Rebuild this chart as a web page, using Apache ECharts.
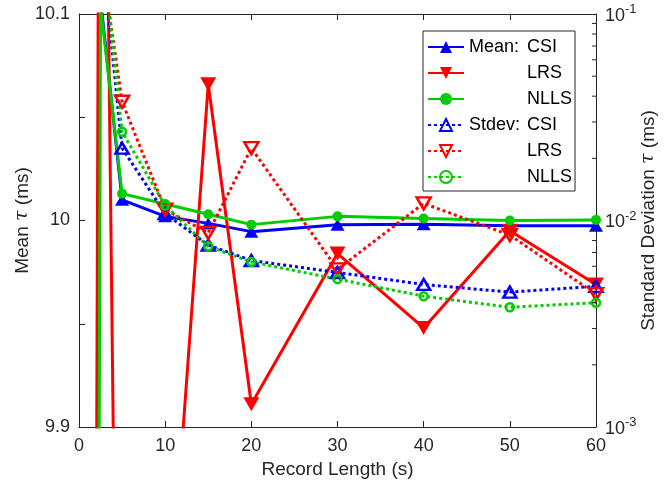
<!DOCTYPE html>
<html>
<head>
<meta charset="utf-8">
<script src="https://cdn.jsdelivr.net/npm/echarts@6/dist/echarts.min.js"></script>
<style>
html,body{margin:0;padding:0;background:#fff;}
#chart{width:667px;height:489px;}
</style>
</head>
<body>
<div id="chart"></div>
<script>
// Record lengths (s)
const recordLength = [1, 2.5, 5, 10, 15, 20, 30, 40, 50, 60];
// Mean tau (ms) – left axis
const meanCSI  = [10.30, 10.107, 10.010, 10.002, 9.9986, 9.9946, 9.998, 9.9982, 9.9975, 9.9975];
const meanLRS  = [8.63, 10.43, 9.53, 9.78, 10.066, 9.911, 9.984, 9.948, 9.995, 9.969];
const meanNLLS = [8.06, 10.104, 10.013, 10.008, 10.003, 9.998, 10.002, 10.001, 10.000, 10.0003];
// Standard deviation tau (ms) – right log axis
const stdCSI  = [1.0, 0.235, 0.0224, 0.0108, 0.0076, 0.0064, 0.0056, 0.0049, 0.0045, 0.0048];
const stdLRS  = [1.0, 0.197, 0.0376, 0.0113, 0.0087, 0.0224, 0.0058, 0.0121, 0.0085, 0.0044];
const stdNLLS = [1.0, 0.249, 0.0269, 0.0118, 0.0075, 0.0063, 0.0052, 0.0043, 0.0038, 0.0040];
// Tick labels
const xTicks = [0, 10, 20, 30, 40, 50, 60];
const leftTickLabels = ['9.9', '10', '10.1'];
const rightMinorTicks = [0.002,0.003,0.004,0.005,0.006,0.007,0.008,0.009,0.02,0.03,0.04,0.05,0.06,0.07,0.08,0.09];

const FONT = 'Liberation Sans, Arial, Helvetica, sans-serif';
const AX = '#262626';
const BLUE = '#0000ff', RED = '#ff0000', GREEN = '#00cc00';

function pairs(ys){ return recordLength.map((x,i)=>[x, ys[i]]); }

const chart = echarts.init(document.getElementById('chart'));

function meanSeries(name, data, color, symbol, size, rotate){
  return {
    name, type:'line', xAxisIndex:0, yAxisIndex:0, data: pairs(data),
    symbol, symbolSize: size, symbolRotate: rotate || 0, showAllSymbol:true,
    lineStyle:{color, width:3, type:'solid'},
    itemStyle:{color, borderColor:color, borderWidth:0},
    clip:true, z:3, animation:false
  };
}
function stdSeries(name, data, color, symbol, size, rotate){
  return {
    name, type:'line', xAxisIndex:0, yAxisIndex:1, data: pairs(data),
    symbol, symbolSize: size, symbolRotate: rotate || 0, showAllSymbol:true,
    lineStyle:{color, width:3, type:[3,3]},
    itemStyle:{color:'rgba(255,255,255,0)', borderColor:color, borderWidth:2.5},
    clip:true, z:3, animation:false
  };
}

const option = {
  animation:false,
  backgroundColor:'#fff',
  grid:{left:79, right:71, top:14, bottom:62, containLabel:false, outerBoundsMode:'none'},
  xAxis:[{
    type:'value', min:0, max:60, interval:10, position:'bottom',
    axisLine:{show:true, onZero:false, lineStyle:{color:AX, width:1}},
    axisTick:{show:true, inside:true, length:6, lineStyle:{color:AX}},
    axisLabel:{fontSize:18, color:AX, margin:10, fontFamily:FONT,
      formatter: v => xTicks.includes(v) ? String(v) : ''},
    splitLine:{show:false},
    name:'Record Length (s)', nameLocation:'middle', nameGap:33, nameMoveOverlap:false,
    nameTextStyle:{fontSize:19, color:AX, fontFamily:FONT}
  },{
    type:'value', min:0, max:60, interval:10, position:'top',
    axisLine:{show:true, onZero:false, lineStyle:{color:AX, width:1}},
    axisTick:{show:true, inside:true, length:6, lineStyle:{color:AX}},
    axisLabel:{show:false}, splitLine:{show:false}
  }],
  yAxis:[{
    type:'value', min:9.9, max:10.1, interval:0.05, position:'left',
    axisLine:{show:true, onZero:false, lineStyle:{color:AX, width:1}},
    axisTick:{show:true, inside:true, length:6, lineStyle:{color:AX}},
    axisLabel:{fontSize:18, color:AX, margin:9, fontFamily:FONT,
      formatter: v => {
        if (Math.abs(v-9.9)<1e-6) return leftTickLabels[0];
        if (Math.abs(v-10)<1e-6) return leftTickLabels[1];
        if (Math.abs(v-10.1)<1e-6) return leftTickLabels[2];
        return '';
      }},
    splitLine:{show:false},
    name:'{n|Mean }{i|τ}{n| (ms)}', nameLocation:'middle', nameGap:47, nameRotate:90, nameMoveOverlap:false,
    nameTextStyle:{color:AX, fontFamily:FONT, fontSize:19,
      rich:{n:{fontSize:19, color:AX, fontFamily:FONT}, i:{fontSize:19, fontStyle:'italic', color:AX, fontFamily:'DejaVu Serif, serif'}}}
  },{
    type:'log', logBase:10, min:0.001, max:0.1, position:'right',
    axisLine:{show:true, onZero:false, lineStyle:{color:AX, width:1}},
    axisTick:{show:true, inside:true, length:7, lineStyle:{color:AX}},
    axisLabel:{color:AX, margin:9, fontFamily:FONT,
      formatter: v => {
        const e = Math.round(Math.log10(v));
        return '{b|10}{s|' + e + '}';
      },
      rich:{
        b:{fontSize:18, color:AX, fontFamily:FONT, verticalAlign:'bottom', lineHeight:22},
        s:{fontSize:13, color:AX, fontFamily:FONT, verticalAlign:'top', lineHeight:22, padding:[0,0,12,0]}
      }},
    splitLine:{show:false},
    name:'{n|Standard Deviation }{i|τ}{n| (ms)}', nameLocation:'middle', nameGap:43, nameRotate:90, nameMoveOverlap:false,
    nameTextStyle:{color:AX, fontFamily:FONT, fontSize:19,
      rich:{n:{fontSize:19, color:AX, fontFamily:FONT}, i:{fontSize:19, fontStyle:'italic', color:AX, fontFamily:'DejaVu Serif, serif'}}}
  }],
  legend:{
    orient:'vertical', left:423, top:31,
    data:['Mean: CSI','Mean: LRS','Mean: NLLS','Stdev: CSI','Stdev: LRS','Stdev: NLLS'],
    backgroundColor:'#fff', borderColor:AX, borderWidth:1,
    padding:[3,3,1,4], itemGap:0, itemWidth:36, itemHeight:15,
    formatter: n => {
      const parts = n.split(': ');
      const first = parts[1] === 'CSI';
      return '{p|' + (first ? parts[0] + ':' : '') + '}{q|' + parts[1] + '}';
    },
    textStyle:{color:'#000', fontFamily:FONT, fontSize:18, lineHeight:26,
      rich:{p:{width:58, fontSize:18, lineHeight:26, fontFamily:FONT, color:'#000'}, q:{fontSize:18, lineHeight:26, fontFamily:FONT, color:'#000'}}}
  },
  series:[
    meanSeries('Mean: CSI', meanCSI, BLUE, 'triangle', [14,12]),
    meanSeries('Mean: LRS', meanLRS, RED, 'triangle', [16,14], 180),
    meanSeries('Mean: NLLS', meanNLLS, GREEN, 'circle', 10),
    stdSeries('Stdev: CSI', stdCSI, BLUE, 'triangle', [13,11]),
    stdSeries('Stdev: LRS', stdLRS, RED, 'triangle', [14,12], 180),
    stdSeries('Stdev: NLLS', stdNLLS, GREEN, 'circle', 8),
    {
      type:'custom', xAxisIndex:0, yAxisIndex:1, silent:true, z:5,
      data: rightMinorTicks.map(v => [60, v]),
      renderItem:(params, api) => {
        const p = api.coord([api.value(0), api.value(1)]);
        return {type:'line', shape:{x1:p[0]-4, y1:p[1], x2:p[0], y2:p[1]},
          style:{stroke:AX, lineWidth:1}};
      }
    }
  ]
};
chart.setOption(option);
</script>
</body>
</html>
